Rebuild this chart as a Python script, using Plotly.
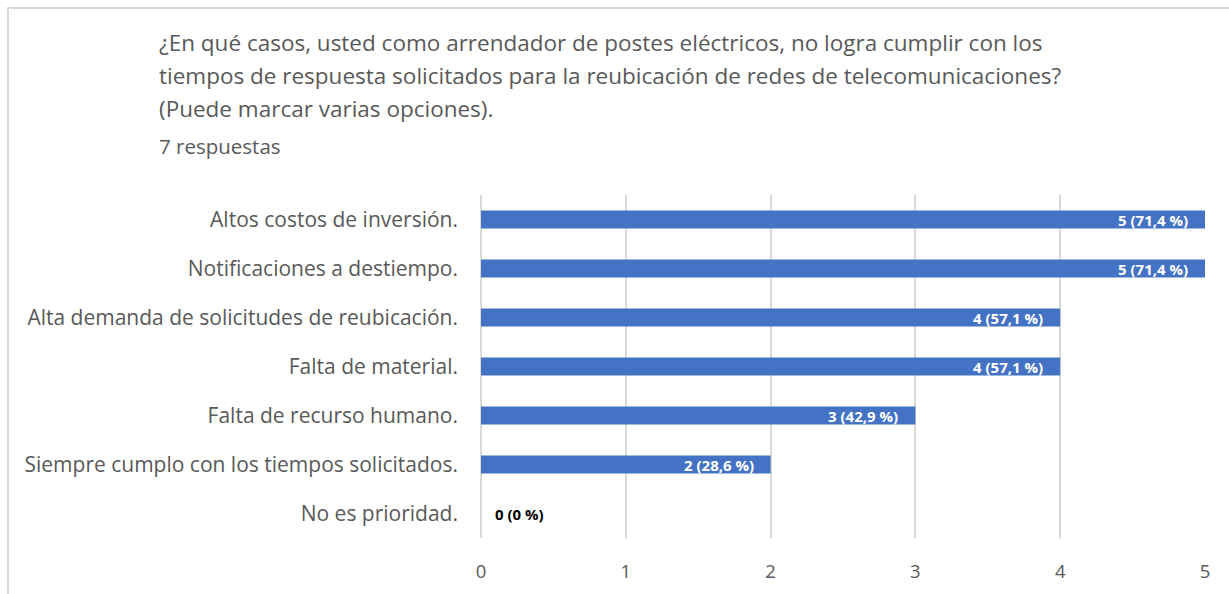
import plotly.graph_objects as go

categories = [
    "Altos costos de inversión.",
    "Notificaciones a destiempo.",
    "Alta demanda de solicitudes de reubicación.",
    "Falta de material.",
    "Falta de recurso humano.",
    "Siempre cumplo con los tiempos solicitados.",
    "No es prioridad.",
]
values = [5, 5, 4, 4, 3, 2, 0]
labels = ["5 (71,4 %)", "5 (71,4 %)", "4 (57,1 %)", "4 (57,1 %)", "3 (42,9 %)", "2 (28,6 %)", "0 (0 %)"]
x_ticks = [0, 1, 2, 3, 4, 5]

title_lines = [
    "¿En qué casos, usted como arrendador de postes eléctricos, no logra cumplir con los",
    "tiempos de respuesta solicitados para la reubicación de redes de telecomunicaciones?",
    "(Puede marcar varias opciones).",
]
subtitle = "7 respuestas"

W, H = 1229, 594
L, R, T, B = 481, 24, 195, 56
pw, ph = W - L - R, H - T - B

def px_x(x):
    return (x - L) / pw

def px_y(y):
    return (H - B - y) / ph

FONT = "Open Sans"
GREY = "#595959"

fig = go.Figure(go.Bar(
    x=values, y=categories, orientation="h",
    marker=dict(color="#4472C4", line=dict(width=0)),
    width=0.37,
    hoverinfo="x+y",
))

annotations = []
for v, c, t in zip(values, categories, labels):
    inside = v > 0
    annotations.append(dict(
        text=t, x=v, y=c, xref="x", yref="y", showarrow=False,
        xanchor="right" if inside else "left", yanchor="middle",
        xshift=-15 if inside else 12,
        font=dict(family=FONT, size=15, color="#ffffff" if inside else "#000000", weight="bold"),
    ))
for i, line in enumerate(title_lines):
    annotations.append(dict(
        text=line, xref="paper", yref="paper", x=px_x(157), y=px_y(43 + i * 32.5),
        xanchor="left", yanchor="middle", showarrow=False,
        font=dict(family=FONT, size=22.5, color=GREY),
    ))
annotations.append(dict(
    text=subtitle, xref="paper", yref="paper", x=px_x(157), y=px_y(146),
    xanchor="left", yanchor="middle", showarrow=False,
    font=dict(family=FONT, size=20.5, color=GREY),
))

fig.update_layout(
    width=W, height=H,
    margin=dict(l=L, r=R, t=T, b=B),
    paper_bgcolor="white", plot_bgcolor="white",
    showlegend=False,
    annotations=annotations,
    shapes=[dict(type="rect", xref="paper", yref="paper",
                 x0=px_x(8), x1=px_x(1300), y0=px_y(700), y1=px_y(8),
                 line=dict(color="#d9d9d9", width=2), layer="below")],
    xaxis=dict(
        range=[0, 5], tickvals=x_ticks, showgrid=True, gridcolor="#d9d9d9", gridwidth=2,
        zeroline=True, zerolinecolor="#d9d9d9", zerolinewidth=2,
        showline=False, ticks="", ticklabelstandoff=20,
        tickfont=dict(family=FONT, size=18.5, color=GREY),
    ),
    yaxis=dict(
        autorange="reversed", showgrid=False, zeroline=False, showline=False,
        ticks="", ticklabelstandoff=22,
        tickfont=dict(family=FONT, size=21, color=GREY),
    ),
)

fig.write_html("out.html", config={"displayModeBar": False},
               post_script="document.body.style.margin='0';")
